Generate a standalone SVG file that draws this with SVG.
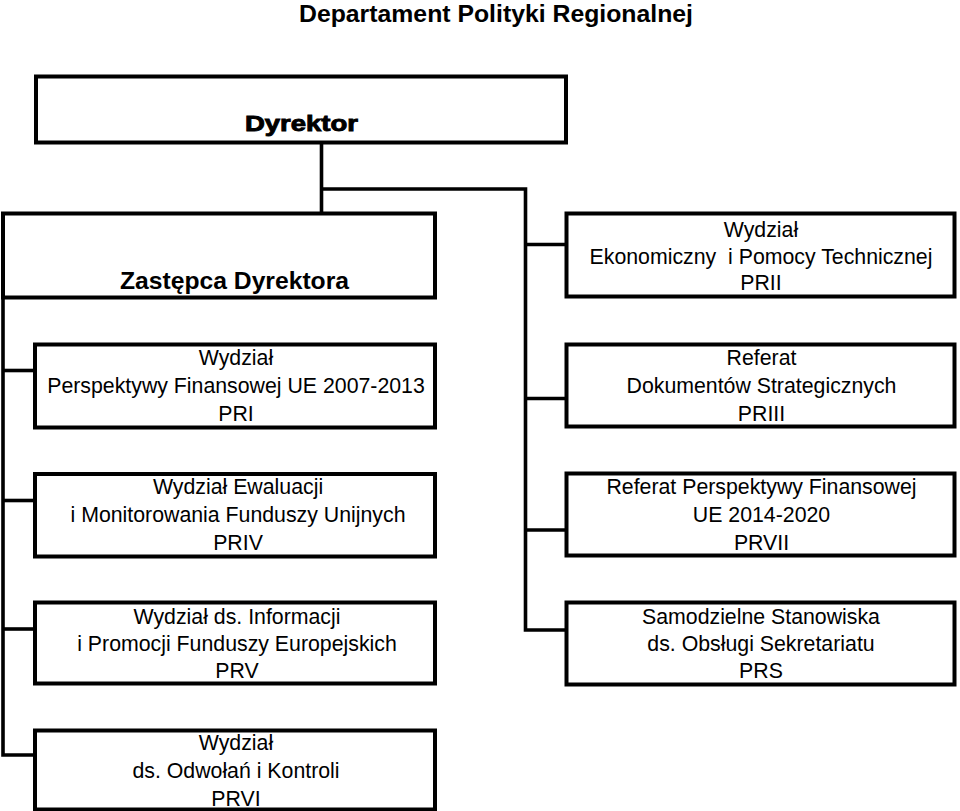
<svg xmlns="http://www.w3.org/2000/svg" width="960" height="811" viewBox="0 0 960 811">
<style>
.box{fill:#fff;stroke:#000;stroke-width:4}
.con{fill:none;stroke:#000;stroke-width:3.6}
text{font-family:"Liberation Sans",Arial,sans-serif;fill:#000;text-anchor:middle}
.t{font-size:21.3px}
.b{font-weight:bold}
</style>
<rect width="960" height="811" fill="#fff"/>
<text class="b" x="496" y="22" font-size="24.5" textLength="394" lengthAdjust="spacingAndGlyphs">Departament Polityki Regionalnej</text>
<g id="connectors">
<polyline class="con" points="321.5,143 321.5,213"/>
<polyline class="con" points="321.5,189 525.5,189 525.5,630 566,630"/>
<line class="con" x1="525.5" y1="244.5" x2="566" y2="244.5"/>
<line class="con" x1="525.5" y1="398.5" x2="566" y2="398.5"/>
<line class="con" x1="525.5" y1="530" x2="566" y2="530"/>
<polyline class="con" points="3,297 3,755 35,755"/>
<line class="con" x1="3" y1="370.5" x2="35" y2="370.5"/>
<line class="con" x1="3" y1="500.5" x2="35" y2="500.5"/>
<line class="con" x1="3" y1="629" x2="35" y2="629"/>
</g>
<g id="dyrektor">
<rect class="box" x="36" y="76.5" width="530" height="66"/>
<text class="b" x="301.5" y="131" font-size="22" textLength="113" lengthAdjust="spacingAndGlyphs" stroke="#000" stroke-width="0.9">Dyrektor</text>
</g>
<g id="zastepca">
<rect class="box" x="3" y="213.5" width="432" height="84"/>
<text class="b" x="234.5" y="289" font-size="24" textLength="229" lengthAdjust="spacingAndGlyphs">Zastępca Dyrektora</text>
</g>
<g id="prii">
<rect class="box" x="566.5" y="213.5" width="388" height="83"/>
<text class="t" x="761" y="237">Wydział</text>
<text class="t" x="761" y="264" xml:space="preserve">Ekonomiczny  i Pomocy Technicznej</text>
<text class="t" x="761" y="290">PRII</text>
</g>
<g id="pri">
<rect class="box" x="35" y="344.5" width="400" height="83"/>
<text class="t" x="236" y="365">Wydział</text>
<text class="t" x="236" y="393">Perspektywy Finansowej UE 2007-2013</text>
<text class="t" x="236" y="421">PRI</text>
</g>
<g id="priii">
<rect class="box" x="566.5" y="344.5" width="388" height="82"/>
<text class="t" x="761.5" y="365">Referat</text>
<text class="t" x="761.5" y="393">Dokumentów Strategicznych</text>
<text class="t" x="761.5" y="421">PRIII</text>
</g>
<g id="priv">
<rect class="box" x="35" y="474" width="400" height="82.5"/>
<text class="t" x="238" y="494">Wydział Ewaluacji</text>
<text class="t" x="238" y="522">i Monitorowania Funduszy Unijnych</text>
<text class="t" x="238" y="550">PRIV</text>
</g>
<g id="prvii">
<rect class="box" x="566.5" y="473.5" width="388" height="82"/>
<text class="t" x="761.5" y="494">Referat Perspektywy Finansowej</text>
<text class="t" x="761.5" y="522">UE 2014-2020</text>
<text class="t" x="761.5" y="550">PRVII</text>
</g>
<g id="prv">
<rect class="box" x="35" y="602.5" width="400" height="81"/>
<text class="t" x="237" y="624">Wydział ds. Informacji</text>
<text class="t" x="237" y="651">i Promocji Funduszy Europejskich</text>
<text class="t" x="237" y="678">PRV</text>
</g>
<g id="prs">
<rect class="box" x="566.5" y="602.5" width="388" height="82"/>
<text class="t" x="761" y="624">Samodzielne Stanowiska</text>
<text class="t" x="761" y="651">ds. Obsługi Sekretariatu</text>
<text class="t" x="761" y="678">PRS</text>
</g>
<g id="prvi">
<rect class="box" x="35" y="730.5" width="400" height="79"/>
<text class="t" x="236" y="750">Wydział</text>
<text class="t" x="236" y="778">ds. Odwołań i Kontroli</text>
<text class="t" x="236" y="806">PRVI</text>
</g>
</svg>
